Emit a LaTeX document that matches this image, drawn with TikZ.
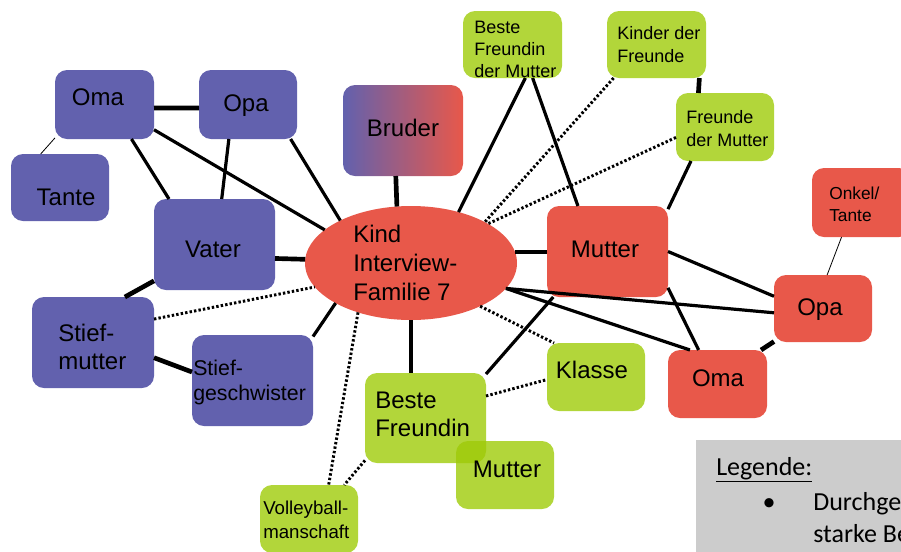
\documentclass[tikz,border=0pt]{standalone}
\usepackage{fontspec}
\setmainfont{Liberation Sans}
\newfontfamily\legfont{Carlito}
\usetikzlibrary{shapes.geometric}
\definecolor{famP}{HTML}{6261AE}
\definecolor{famR}{HTML}{E8584A}
\definecolor{famG}{HTML}{B2D63A}
\definecolor{famGdark}{HTML}{A2CC12}
\definecolor{legGray}{HTML}{CCCCCC}
\tikzset{
  box/.style={rectangle, rounded corners=9pt, inner sep=0pt, outer sep=0pt},
  big/.style={box, minimum width=90.75pt, minimum height=68.25pt},
  small/.style={box, minimum width=73.5pt, minimum height=51pt},
  pfill/.style={fill=famP},
  rfill/.style={fill=famR},
  gfill/.style={fill=famG},
  txt/.style={inner sep=0pt, align=left, font=\fontsize{18}{21.75}\selectfont},
  smalltxt/.style={inner sep=0pt, align=left, font=\fontsize{13.5}{17}\selectfont},
  heavy/.style={line width=3.5pt},
  mid/.style={line width=2.4pt},
  thinline/.style={line width=0.6pt},
  dotline/.style={line width=2.2pt, dash pattern=on 1.8pt off 1.6pt},
}
\begin{document}
\begin{tikzpicture}[x=0.75pt,y=-0.75pt]
\useasboundingbox (0,0) rectangle (901,551);

% father's side
\node[small, pfill, minimum width=74.25pt, minimum height=51.75pt] (omaL) at (104.5,104.5) {};
\node[small, pfill, minimum height=51.75pt] (opaL) at (248,104.5) {};
\node[small, pfill, minimum height=50.25pt] (tante) at (60,187.5) {};
\node[big, pfill] (vater) at (214.5,244.5) {};
\node[big, pfill, minimum width=91.5pt] (stiefm) at (93,342.5) {};
\node[big, pfill] (stiefg) at (252.5,380.5) {};

% brother
\node[big, minimum width=90pt, left color=famP, right color=famR] (bruder) at (403,130.5) {};

% the child
\node[ellipse, fill=famR, inner sep=0pt, outer sep=0pt,
      minimum width=159pt, minimum height=85.5pt] (kind) at (411,263) {};

% mother's side
\node[small, gfill, minimum width=74.25pt, minimum height=50.25pt] (bfm) at (512.5,44.5) {};
\node[small, gfill, minimum width=74.25pt, minimum height=50.25pt] (kdf) at (656.5,44.5) {};
\node[small, gfill] (fdm) at (725,127) {};
\node[small, rfill, minimum width=74.25pt, minimum height=51.75pt] (onkel) at (861.5,202.5) {};
\node[big, rfill] (mutterR) at (607.5,251.5) {};
\node[small, rfill, minimum height=50.25pt] (opaR) at (823,308.5) {};
\node[small, rfill, minimum width=74.25pt] (omaR) at (717.5,384) {};

% friends and school
\node[small, gfill] (klasse) at (596,377) {};
\node[big, gfill, minimum height=67.5pt] (bf) at (425.5,418) {};
\node[small, gfill] (mutterG) at (505,475) {};
\node[small, gfill] (volley) at (309,519) {};

% overlap of the two green boxes
\begin{scope}
  \clip[rounded corners=9pt] (bf.south west) rectangle (bf.north east);
  \fill[famGdark, rounded corners=9pt] (mutterG.south west) rectangle (mutterG.north east);
\end{scope}

% connectors
\draw[heavy] (omaL.-4) -- (opaL.184);
\draw[thinline] (omaL.214) -- (tante.120.8);
\draw[mid] (omaL.-52.5) -- (vater.135);
\draw[mid] (omaL.-27.3) -- (kind.159.5);
\draw[mid] (opaL.241.2) -- (vater.81.9);
\draw[mid] (opaL.-39.4) -- (kind.149.3);
\draw[heavy] (vater.-13.5) -- (kind.178);
\draw[heavy] (vater.211.8) -- (stiefm.55.7);
\draw[dotline] (stiefm.21.1) -- (kind.194.2);
\draw[heavy] (stiefm.-14.3) -- (stiefg.172.9);
\draw[mid] (stiefg.36.3) -- (kind.208.9);
\draw[heavy] (bruder.261.3) -- (kind.104.7);
\draw[mid] (bfm.-69.5) -- (kind.47.4);
\draw[mid] (bfm.-59.8) -- (mutterR.123.8);
\draw[dotline] (kdf.218.9) -- (kind.29);
\draw[dotline] (fdm.192.7) -- (kind.27);
\draw[heavy] (kdf.-38.9) -- (fdm.128.5);
\draw[mid] (fdm.225) -- (mutterR.35.7);
\draw[heavy] (kind.6.3) -- (mutterR.west |- kind.6.3);
\draw[mid] (mutterR.0) -- (opaR.166.8);
\draw[mid] (mutterR.-31.8) -- (omaR.119.8);
\draw[mid] (kind.-15.9) -- (opaR.185.2);
\draw[mid] (kind.-15.9) -- (omaR.129);
\draw[heavy] (opaR.214.4) -- (omaR.38.5);
\draw[thinline] (onkel.240.5) -- (opaR.83.2);
\draw[dotline] (kind.-32.1) -- (klasse.141.7);
\draw[dotline] (bf.20.5) -- (klasse.183.5);
\draw[heavy] (kind.south) -- (kind.south |- bf.north);
\draw[mid] (mutterR.220.9) -- (bf.36.1);
\draw[dotline] (kind.223.3) -- (volley.60.1);
\draw[dotline] (bf.215.8) -- (volley.44.1);

% labels
\node[txt] (tOmaL) at (98,97) {Oma};
\node[txt] (tOpaL) at (246,106) {Opa};
\node[txt] (tTante) at (66,197) {Tante};
\node[txt] (tVater) at (213,249) {Vater};
\node[txt] (tBruder) at (403,128) {Bruder};
\node[txt, anchor=west] (tKind) at (353,263) {Kind\\Interview-\\Familie 7};
\node[smalltxt, anchor=west, font=\fontsize{13.5}{16.5}\selectfont] (tBfm) at (474,49) {Beste\\Freundin\\der Mutter};
\node[smalltxt, anchor=west] (tKdf) at (617,44.5) {Kinder der\\Freunde};
\node[smalltxt, anchor=west] (tFdm) at (686,128.5) {Freunde\\der Mutter};
\node[smalltxt, anchor=west, font=\fontsize{13}{16.5}\selectfont] (tOnkel) at (829,204) {Onkel/\\Tante};
\node[txt] (tMutterR) at (605,249) {Mutter};
\node[txt] (tOpaR) at (820,310) {Opa};
\node[txt] (tOmaR) at (718,378) {Oma};
\node[txt] (tKlasse) at (592,370) {Klasse};
\node[txt, anchor=west, font=\fontsize{18}{20.5}\selectfont] (tBf) at (375,414.5) {Beste\\Freundin};
\node[txt] (tMutterG) at (507,469) {Mutter};
\node[smalltxt, anchor=west, font=\fontsize{14}{18}\selectfont] (tVolley) at (263,520) {Volleyball-\\manschaft};
\node[txt, anchor=west, font=\fontsize{18}{21}\selectfont] (tStiefm) at (58,347) {Stief-\\mutter};
\node[txt, anchor=west, font=\fontsize{16}{18.75}\selectfont] (tStiefg) at (193,382.5) {Stief-\\geschwister};

% legend
\fill[legGray] (696,440) rectangle (910,560);
\node[anchor=base west, inner sep=0pt, font=\legfont\fontsize{19.5}{23}\selectfont] (legTitle) at (716,475) {\underline{Legende:}};
\node[anchor=base, inner sep=0pt, font=\legfont\fontsize{19.5}{23}\selectfont] (legBullet) at (769,510) {•};
\node[anchor=base west, inner sep=0pt, font=\legfont\fontsize{19.5}{23}\selectfont] (legLine1) at (813,510) {Durchge};
\node[anchor=base west, inner sep=0pt, font=\legfont\fontsize{19.5}{23}\selectfont] (legLine2) at (813,542) {starke Be};
\end{tikzpicture}
\end{document}
